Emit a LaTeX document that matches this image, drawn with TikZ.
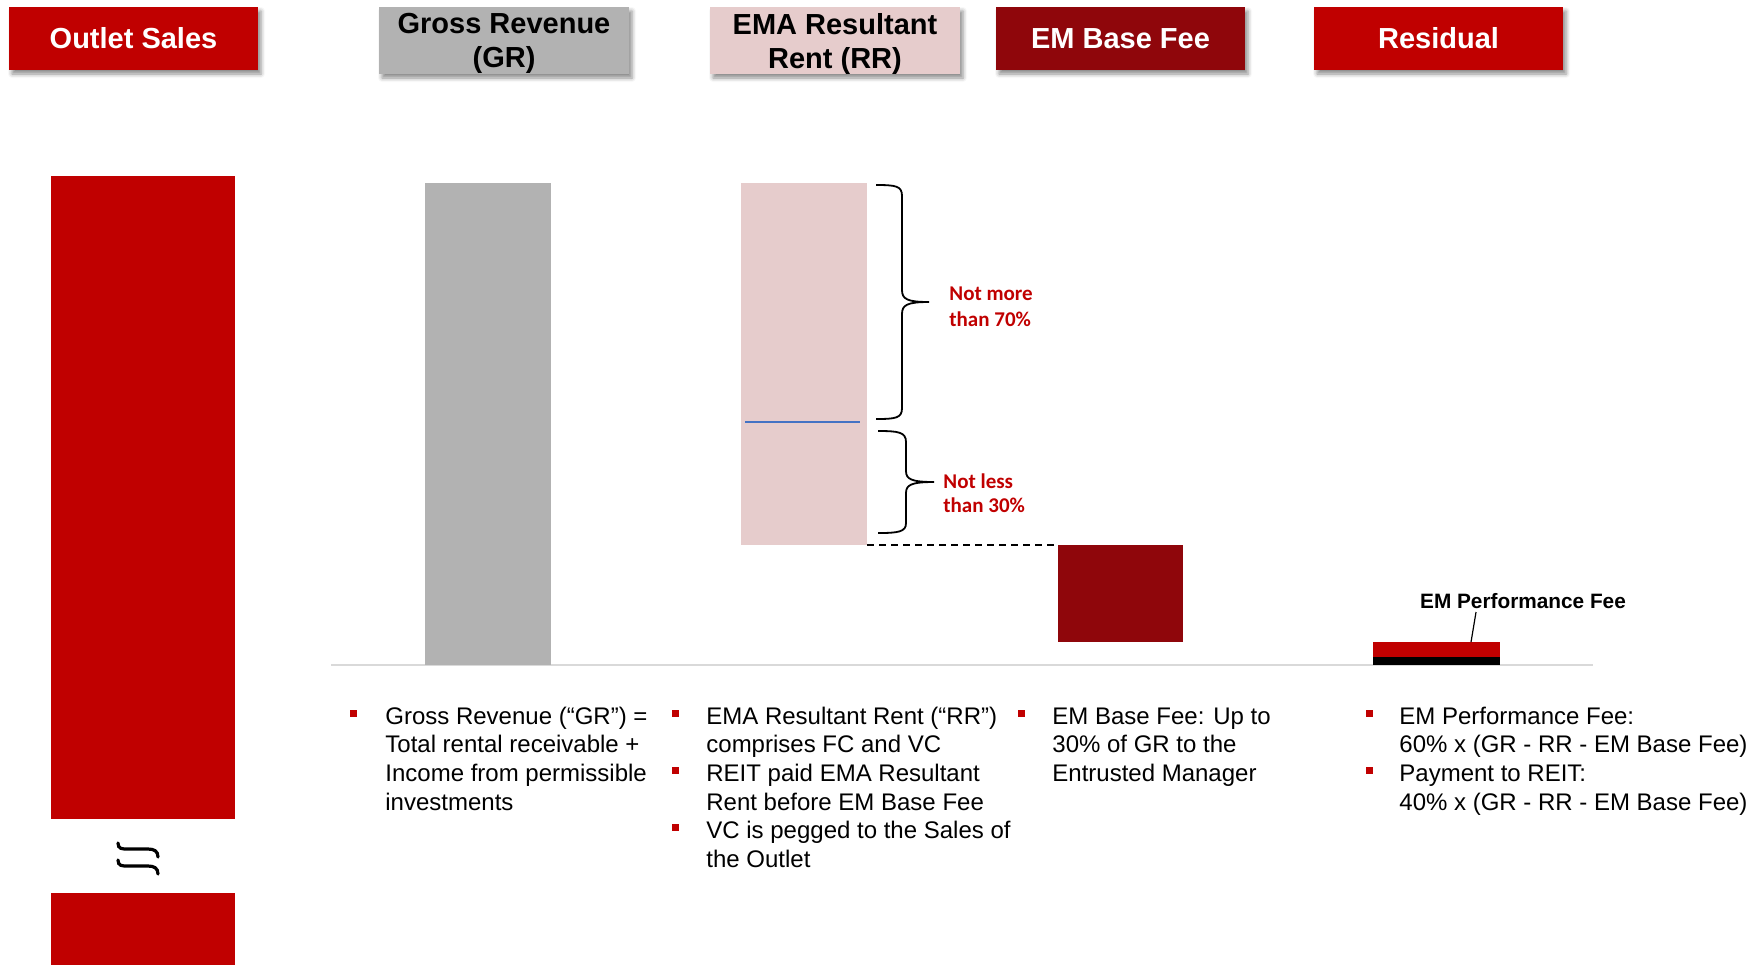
\documentclass[tikz,border=0pt]{standalone}
\usepackage{fontspec}
\setmainfont{Liberation Sans}
\newfontfamily\calib{Carlito}
\usetikzlibrary{shadows.blur}
\definecolor{osred}{RGB}{192,0,0}
\definecolor{grgray}{RGB}{178,178,178}
\definecolor{rrpink}{RGB}{230,204,204}
\definecolor{emdark}{RGB}{143,6,11}
\definecolor{axisgray}{RGB}{217,217,217}
\definecolor{splitblue}{RGB}{68,114,196}
\begin{document}
\begin{tikzpicture}[x=0.5pt,y=-0.5pt,
 hdr/.style={inner sep=0pt, font=\fontsize{14.5}{17}\selectfont\bfseries, align=center,
   blur shadow={shadow xshift=1.5pt, shadow yshift=-2pt, shadow blur radius=2pt, shadow opacity=45}},
 hdrtxt/.style={inner sep=0pt, font=\fontsize{14.5}{17}\selectfont\bfseries, align=center},
 txt/.style={anchor=base west, inner sep=0pt, font=\fontsize{12}{14.4}\selectfont},
 bul/.style={fill=osred, minimum size=3.5pt, inner sep=0pt},
 note/.style={anchor=base west, inner sep=0pt, text=osred, font=\calib\fontsize{10.5}{13}\selectfont\bfseries},
 bracestyle/.style={line width=0.9pt},
 breakstroke/.style={line width=1.6pt, line cap=round},
]
\useasboundingbox (0,0) rectangle (1759,965);

% headers
\node[hdr, fill=osred, text=white, minimum width=124.5pt, minimum height=31.5pt] (hOS) at (133.5,38.5) {Outlet Sales};
\node[hdr, fill=grgray, minimum width=125pt, minimum height=33.5pt] (hGR) at (504,40.5) {};
\node[hdrtxt, text=black] (tGR) at ([yshift=-1.5pt]hGR.center) {Gross Revenue\\(GR)};
\node[hdr, fill=rrpink, minimum width=125pt, minimum height=33.5pt] (hRR) at (835,40.5) {};
\node[hdrtxt, text=black] (tRR) at ([yshift=-1.5pt]hRR.center) {EMA Resultant\\Rent (RR)};
\node[hdr, fill=emdark, text=white, minimum width=124.5pt, minimum height=31.5pt] (hEM) at (1120.5,38.5) {EM Base Fee};
\node[hdr, fill=osred, text=white, minimum width=124.5pt, minimum height=31.5pt] (hRes) at (1438.5,38.5) {Residual};

% axis
\coordinate (axL) at (331,665);
\coordinate (axR) at (1593,665);
\draw[axisgray, line width=1pt] (axL) -- (axR);

% bars
\fill[osred] (51,176) rectangle (235,819);
\fill[osred] (51,893) rectangle (235,965);
\fill[grgray] (425,183) rectangle (551,665);
\fill[rrpink] (741,183) rectangle (867,545);
\draw[splitblue, line width=0.7pt] (745,422) -- (860,422);
\fill[emdark] (1058,545) rectangle (1183,642);
\fill[osred] (1373,642) rectangle (1500,657);
\fill[black] (1373,657) rectangle (1500,665);

% break symbol
\draw[breakstroke] (118,843) .. controls (118,849) and (122,849) .. (128,849) -- (148,849) .. controls (154,849) and (158,851) .. (158,857);
\draw[breakstroke] (118,860) .. controls (118,866) and (122,866) .. (128,866) -- (148,866) .. controls (154,866) and (158,868) .. (158,874);

% dashed connector
\coordinate (rrEnd) at (867,545);
\coordinate (emStart) at (1058,545);
\draw[dashed, dash pattern=on 3.5pt off 2.5pt, line width=0.8pt] (rrEnd) -- (emStart);

% braces
\draw[bracestyle] (876,185) .. controls (896,185) and (902,186) .. (902,196) -- (902,290)
  .. controls (902,299) and (907,302) .. (929,302) .. controls (907,302) and (902,305) .. (902,314)
  -- (902,408) .. controls (902,418) and (896,419) .. (876,419);
\draw[bracestyle] (878,431) .. controls (898,431) and (906,432) .. (906,442) -- (906,471)
  .. controls (906,479) and (911,482) .. (934,482) .. controls (911,482) and (906,485) .. (906,493)
  -- (906,523) .. controls (906,532) and (898,533) .. (878,533);
\node[note] (n70a) at (949,300) {Not more};
\node[note] (n70b) at (949,326) {than 70\%};
\node[note] (n30a) at (943,488) {Not less};
\node[note] (n30b) at (943,512) {than 30\%};

% EM performance fee label
\node[anchor=base, inner sep=0pt, font=\fontsize{10.4}{12}\selectfont\bfseries] (pf) at (1523,608) {EM Performance Fee};
\coordinate (ldA) at (1476,612);
\coordinate (ldB) at (1471,642);
\draw[line width=0.6pt] (ldA) -- (ldB);

% column 1
\node[bul] (b11) at (353,713) {};
\node[txt] (t11) at (385,724) {Gross Revenue (“GR”) =};
\node[txt] (t12) at (385,752.7) {Total rental receivable +};
\node[txt] (t13) at (385,781.4) {Income from permissible};
\node[txt] (t14) at (385,810.1) {investments};

% column 2
\node[bul] (b21) at (675,713) {};
\node[txt] (t21) at (706,724) {EMA Resultant Rent (“RR”)};
\node[txt] (t22) at (706,752.7) {comprises FC and VC};
\node[bul] (b22) at (675,770.4) {};
\node[txt] (t23) at (706,781.4) {REIT paid EMA Resultant};
\node[txt] (t24) at (706,810.1) {Rent before EM Base Fee};
\node[bul] (b23) at (675,827.8) {};
\node[txt] (t25) at (706,838.8) {VC is pegged to the Sales of};
\node[txt] (t26) at (706,867.5) {the Outlet};

% column 3
\node[bul] (b31) at (1021,713) {};
\node[txt] (t31) at (1052,724) {EM Base Fee: Up to};
\node[txt] (t32) at (1052,752.7) {30\% of GR to the};
\node[txt] (t33) at (1052,781.4) {Entrusted Manager};

% column 4
\node[bul] (b41) at (1369,713) {};
\node[txt] (t41) at (1399,724) {EM Performance Fee:};
\node[txt] (t42) at (1399,752.7) {60\% x (GR - RR - EM Base Fee)};
\node[bul] (b42) at (1369,770.4) {};
\node[txt] (t43) at (1399,781.4) {Payment to REIT:};
\node[txt] (t44) at (1399,810.1) {40\% x (GR - RR - EM Base Fee)};
\end{tikzpicture}
\end{document}
